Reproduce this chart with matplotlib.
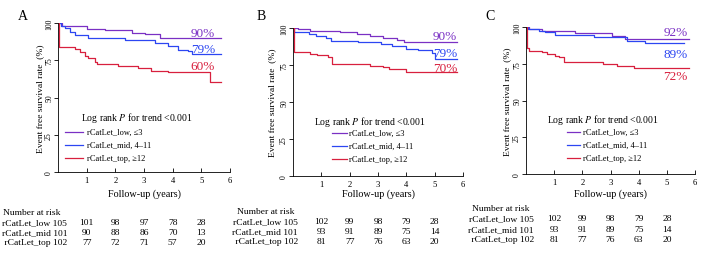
import matplotlib
matplotlib.use("Agg")
import matplotlib.pyplot as plt
import matplotlib.transforms as mtransforms

plt.rcParams["font.family"] = ["Liberation Serif", "DejaVu Serif"]
plt.rcParams["mathtext.fontset"] = "stix"

PURPLE = "#7a30c4"
BLUE = "#2c46f2"
RED = "#d8203e"
colors = [PURPLE, BLUE, RED]

panel_letters = ["A", "B", "C"]
group_names = ["rCatLet_low, \u22643", "rCatLet_mid, 4\u201311", "rCatLet_top, \u226512"]
risk_names = ["rCatLet_low 105", "rCatLet_mid 101", " rCatLet_top 102"]
risk_times = [1, 2, 3, 4, 5]

# Panel A curves
a_low_t = [0, 0.13, 1.0, 1.64, 2.57, 3.03, 3.55, 5.7]
a_low_s = [100, 98.2, 96.2, 95.0, 93.5, 92.3, 90.2, 90.2]
a_mid_t = [0, 0.1, 0.24, 0.42, 0.59, 1.06, 2.33, 3.38, 3.85, 4.2, 4.54, 4.66, 5.7]
a_mid_s = [100, 98, 96.4, 94.2, 92, 89.8, 88.7, 86.5, 84.3, 82.1, 81, 79.2, 79.2]
a_top_t = [0, 0.035, 0.59, 0.77, 0.94, 1.06, 1.29, 1.35, 2.1, 2.8, 3.26, 3.85, 5.3, 5.67]
a_top_s = [100, 83.7, 82.6, 80.3, 78.1, 76.3, 74.1, 72.5, 71.4, 69.6, 68.0, 66.9, 60.2, 60.2]
a_risk = [[101, 98, 97, 78, 28], [90, 88, 86, 70, 13], [77, 72, 71, 57, 20]]
a_pct = ["90%", "79%", "60%"]

# Panel B curves
b_low_t = [0, 0.19, 0.6, 1.66, 2.25, 2.72, 3.19, 3.66, 3.9, 5.8]
b_low_s = [100, 99.2, 98.3, 97, 95.8, 94.6, 93.4, 92.2, 90.4, 90.4]
b_mid_t = [0, 0.05, 0.55, 0.8, 1.15, 1.35, 2.3, 3.1, 3.5, 4.0, 4.4, 4.9, 5.0, 5.8]
b_mid_s = [100, 97.5, 96, 94.5, 93, 91.5, 90.5, 89, 88, 86, 85, 83, 79.3, 79.3]
b_top_t = [0, 0.03, 0.6, 0.85, 1.25, 1.37, 2.72, 3.19, 3.4, 4.0, 5.8]
b_top_s = [100, 83.6, 82.4, 81.5, 80.2, 75.7, 74.5, 73.4, 72.3, 70.5, 70.5]
b_risk = [[102, 99, 98, 79, 28], [93, 91, 89, 75, 14], [81, 77, 76, 63, 20]]
b_pct = ["90%", "79%", "70%"]

# Panel C curves
c_low_t = [0, 0.1, 0.57, 1.75, 3.05, 3.52, 5.8]
c_low_s = [100, 98.6, 97.5, 95.7, 94.1, 92.1, 92.1]
c_mid_t = [0, 0.08, 0.45, 0.69, 1.04, 2.4, 3.58, 4.23, 5.6]
c_mid_s = [100, 98.6, 97.5, 96.4, 94.6, 93, 90.7, 88.8, 88.8]
c_top_t = [0, 0.03, 0.1, 0.57, 0.75, 1.04, 1.16, 1.34, 2.75, 3.23, 3.82, 5.8]
c_top_s = [100, 86, 84, 82.8, 81.6, 80.5, 79.4, 76.5, 75, 73.6, 72.3, 72.3]
c_risk = [[102, 99, 98, 79, 28], [93, 91, 89, 75, 14], [81, 77, 76, 63, 20]]
c_pct = ["92%", "89%", "72%"]

panels = [
    dict(curves=[(a_low_t, a_low_s), (a_mid_t, a_mid_s), (a_top_t, a_top_s)],
         risk=a_risk, pct=a_pct,
         box=[58, 24, 172, 149], pct_xy=[(5.05, 91.5), (5.05, 80.5), (5.05, 69)],
         leg=dict(tx=0.134, ty=0.369, l0=0.041, l1=0.145, lx=0.169, rows=[0.268, 0.181, 0.094]),
         ylab=-0.082, xlab=-0.107, letter=(18, 17),
         hdr_x=3, row_r=67, rows_y=[213, 223, 233, 243]),
    dict(curves=[(b_low_t, b_low_s), (b_mid_t, b_mid_s), (b_top_t, b_top_s)],
         risk=b_risk, pct=b_pct,
         box=[293, 29, 170, 148], pct_xy=[(5.37, 92.6), (5.37, 81.3), (5.37, 71.2)],
         leg=dict(tx=0.124, ty=0.372, l0=0.229, l1=0.315, lx=0.329, rows=[0.29, 0.203, 0.115]),
         ylab=-0.097, xlab=-0.081, letter=(257, 17),
         hdr_x=237, row_r=298, rows_y=[212, 222, 232, 242]),
    dict(curves=[(c_low_t, c_low_s), (c_mid_t, c_mid_s), (c_top_t, c_top_s)],
         risk=c_risk, pct=c_pct,
         box=[526, 28, 169, 147], pct_xy=[(5.3, 94.6), (5.3, 79.4), (5.3, 64.6)],
         leg=dict(tx=0.124, ty=0.374, l0=0.241, l1=0.32, lx=0.337, rows=[0.286, 0.197, 0.109]),
         ylab=-0.088, xlab=-0.095, letter=(485, 17),
         hdr_x=472, row_r=534, rows_y=[209, 219, 230, 240]),
]

W, H = 704, 255
fig = plt.figure(figsize=(W / 100, H / 100), dpi=100)

for i, p in enumerate(panels):
    x0, y0, w, h = p["box"]
    ax = fig.add_axes([x0 / W, (H - y0 - h) / H, w / W, h / H])
    for (t, s), c in zip(p["curves"], colors):
        ax.step(t, s, where="post", color=c, lw=0.9)
    ax.set_xlim(0, 6)
    ax.set_ylim(0, 100)
    ax.spines["top"].set_visible(False)
    ax.spines["right"].set_visible(False)
    for sp in ["left", "bottom"]:
        ax.spines[sp].set_linewidth(0.6)
    ax.set_xticks([1, 2, 3, 4, 5, 6])
    ax.set_yticks([0, 25, 50, 75, 100])
    ax.tick_params(axis="x", direction="in", length=3, width=0.6, labelsize=6.2, pad=3)
    ax.tick_params(axis="y", direction="out", length=3, width=0.6, labelsize=5.6, pad=0.5)
    for lab in ax.get_yticklabels():
        lab.set_rotation(90)
        lab.set_va("center")
    ax.set_xlabel("Follow-up (years)", fontsize=7.3)
    ax.set_ylabel("Event free survival rate  (%)", fontsize=6.8)
    ax.yaxis.set_label_coords(p["ylab"], 0.5)
    ax.xaxis.set_label_coords(0.5, p["xlab"])

    # percentage annotations
    for txt, (px, py), c in zip(p["pct"], p["pct_xy"], colors):
        ax.text(px, py, txt, color=c, fontsize=9.5, ha="center", va="baseline")

    # legend
    lg = p["leg"]
    ax.text(lg["tx"], lg["ty"], "Log rank $\\mathit{P}$ for trend <0.001",
            transform=ax.transAxes, fontsize=7, va="center", ha="left")
    for name, ry, c in zip(group_names, lg["rows"], colors):
        ax.plot([lg["l0"], lg["l1"]], [ry, ry], color=c, lw=0.9,
                transform=ax.transAxes, clip_on=False)
        ax.text(lg["lx"], ry, name, transform=ax.transAxes, fontsize=6,
                va="center", ha="left")

    # panel letter
    fig.text(p["letter"][0] / W, 1 - p["letter"][1] / H, panel_letters[i],
             fontsize=10, ha="left", va="center")

    # number at risk table
    ry = p["rows_y"]
    fig.text(p["hdr_x"] / W, 1 - ry[0] / H, "Number at risk", fontsize=6.8,
             ha="left", va="center")
    blend = mtransforms.blended_transform_factory(ax.transData, fig.transFigure)
    for k, (name, vals) in enumerate(zip(risk_names, p["risk"])):
        yf = 1 - ry[k + 1] / H
        fig.text(p["row_r"] / W, yf, name, fontsize=6.8, ha="right", va="center")
        for tt, v in zip(risk_times, vals):
            ax.text(tt, yf, str(v), transform=blend, fontsize=6.8,
                    ha="center", va="center", clip_on=False)

fig.savefig("out.png", dpi=100, facecolor="white")
